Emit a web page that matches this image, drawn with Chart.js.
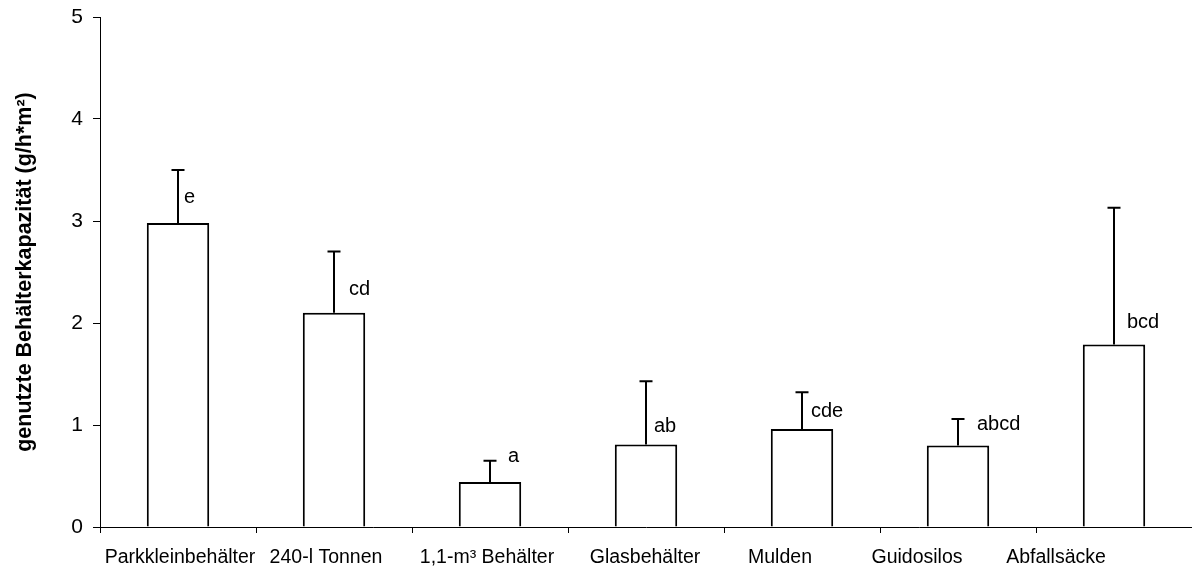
<!DOCTYPE html>
<html>
<head>
<meta charset="utf-8">
<script src="https://cdn.jsdelivr.net/npm/chart.js@4"></script>
<style>
  html, body { margin: 0; padding: 0; background: #fff; }
  #wrap { width: 1192px; height: 568px; }
</style>
</head>
<body>
<div id="wrap"><canvas id="c" width="1192" height="568"></canvas></div>
<script>
// Container types along the category axis
const categories = ['Parkkleinbehälter', '240-l Tonnen', '1,1-m³ Behälter', 'Glasbehälter', 'Mulden', 'Guidosilos', 'Abfallsäcke'];
// Mean used container capacity (g/h*m²)
const means = [2.98, 2.10, 0.44, 0.81, 0.96, 0.80, 1.79];
// Upper standard deviation drawn as a one-sided error bar
const sdUpper = [0.52, 0.60, 0.21, 0.62, 0.36, 0.26, 1.34];
// Significance group letters shown beside each bar
const groupLetters = ['e', 'cd', 'a', 'ab', 'cde', 'abcd', 'bcd'];
// Value axis ticks
const yTicks = [0, 1, 2, 3, 4, 5];
const yTitle = 'genutzte Behälterkapazität (g/h*m²)';

const FONT = 'Arial, "Liberation Sans", sans-serif';

// Layout nudges (pixels): category label shift, letter offset right of whisker, letter baseline above bar
const labelShift = [2, -8, -3, -1, -22, -41, -58];
const letterDx = [6, 15, 18, 8, 9, 19, 13];
const letterDy = [20, 18, 20, 12, 12, 15, 16];

// Draws the upper error whiskers and the group letters on top of the bars
const errorBarPlugin = {
  id: 'errorBars',
  afterDatasetsDraw(chart) {
    const ctx = chart.ctx;
    const meta = chart.getDatasetMeta(0);
    const yScale = chart.scales.y;
    ctx.save();
    ctx.strokeStyle = '#000';
    ctx.fillStyle = '#000';
    ctx.lineWidth = 2;
    meta.data.forEach((bar, i) => {
      const x = Math.round(bar.x);
      const top = yScale.getPixelForValue(means[i]);
      const hi = yScale.getPixelForValue(means[i] + sdUpper[i]);
      ctx.beginPath();
      ctx.moveTo(x, top);
      ctx.lineTo(x, hi);
      ctx.moveTo(x - 6.5, hi);
      ctx.lineTo(x + 6.5, hi);
      ctx.stroke();
      ctx.font = '20px ' + FONT;
      ctx.textAlign = 'left';
      ctx.textBaseline = 'alphabetic';
      ctx.fillText(groupLetters[i], x + letterDx[i], top - letterDy[i]);
    });
    ctx.restore();
  }
};

// Category names under the axis
const categoryLabelPlugin = {
  id: 'categoryLabels',
  afterDraw(chart) {
    const ctx = chart.ctx;
    const xScale = chart.scales.x;
    ctx.save();
    ctx.fillStyle = '#000';
    ctx.font = '19.5px ' + FONT;
    ctx.textAlign = 'center';
    ctx.textBaseline = 'alphabetic';
    categories.forEach((name, i) => {
      ctx.fillText(name, xScale.getPixelForValue(i) + labelShift[i], 563);
    });
    ctx.restore();
  }
};

new Chart(document.getElementById('c'), {
  type: 'bar',
  data: {
    labels: categories,
    datasets: [{
      data: means,
      backgroundColor: '#ffffff',
      borderColor: '#000000',
      borderWidth: 2,
      barPercentage: 0.4,
      categoryPercentage: 1.0
    }]
  },
  options: {
    responsive: false,
    animation: false,
    devicePixelRatio: 1,
    layout: { padding: { top: 17, right: 0, bottom: 0, left: 0 } },
    plugins: {
      legend: { display: false },
      tooltip: { enabled: false }
    },
    scales: {
      x: {
        grid: {
          display: true,
          drawOnChartArea: false,
          drawTicks: true,
          tickLength: 6,
          color: '#000',
          offset: true
        },
        border: { display: true, color: '#000', width: 1 },
        ticks: { display: false, autoSkip: false },
        afterFit(scale) {
          scale.height = 41;
          scale.paddingLeft = 0;
          scale.paddingRight = 0;
        }
      },
      y: {
        min: 0,
        max: 5,
        afterBuildTicks(scale) { scale.ticks = yTicks.map(v => ({ value: v })); },
        grid: {
          display: true,
          drawOnChartArea: false,
          drawTicks: true,
          tickLength: 7,
          color: '#000'
        },
        border: { display: true, color: '#000', width: 1 },
        ticks: {
          color: '#000',
          font: { family: FONT, size: 21 },
          padding: 10
        },
        title: {
          display: true,
          text: yTitle,
          color: '#000',
          font: { family: FONT, size: 21.5, weight: 'bold' },
          padding: { top: 12, bottom: 0 }
        },
        afterFit(scale) {
          scale.width = 100;
          scale.paddingTop = 0;
          scale.paddingBottom = 0;
        }
      }
    }
  },
  plugins: [errorBarPlugin, categoryLabelPlugin]
});
</script>
</body>
</html>
